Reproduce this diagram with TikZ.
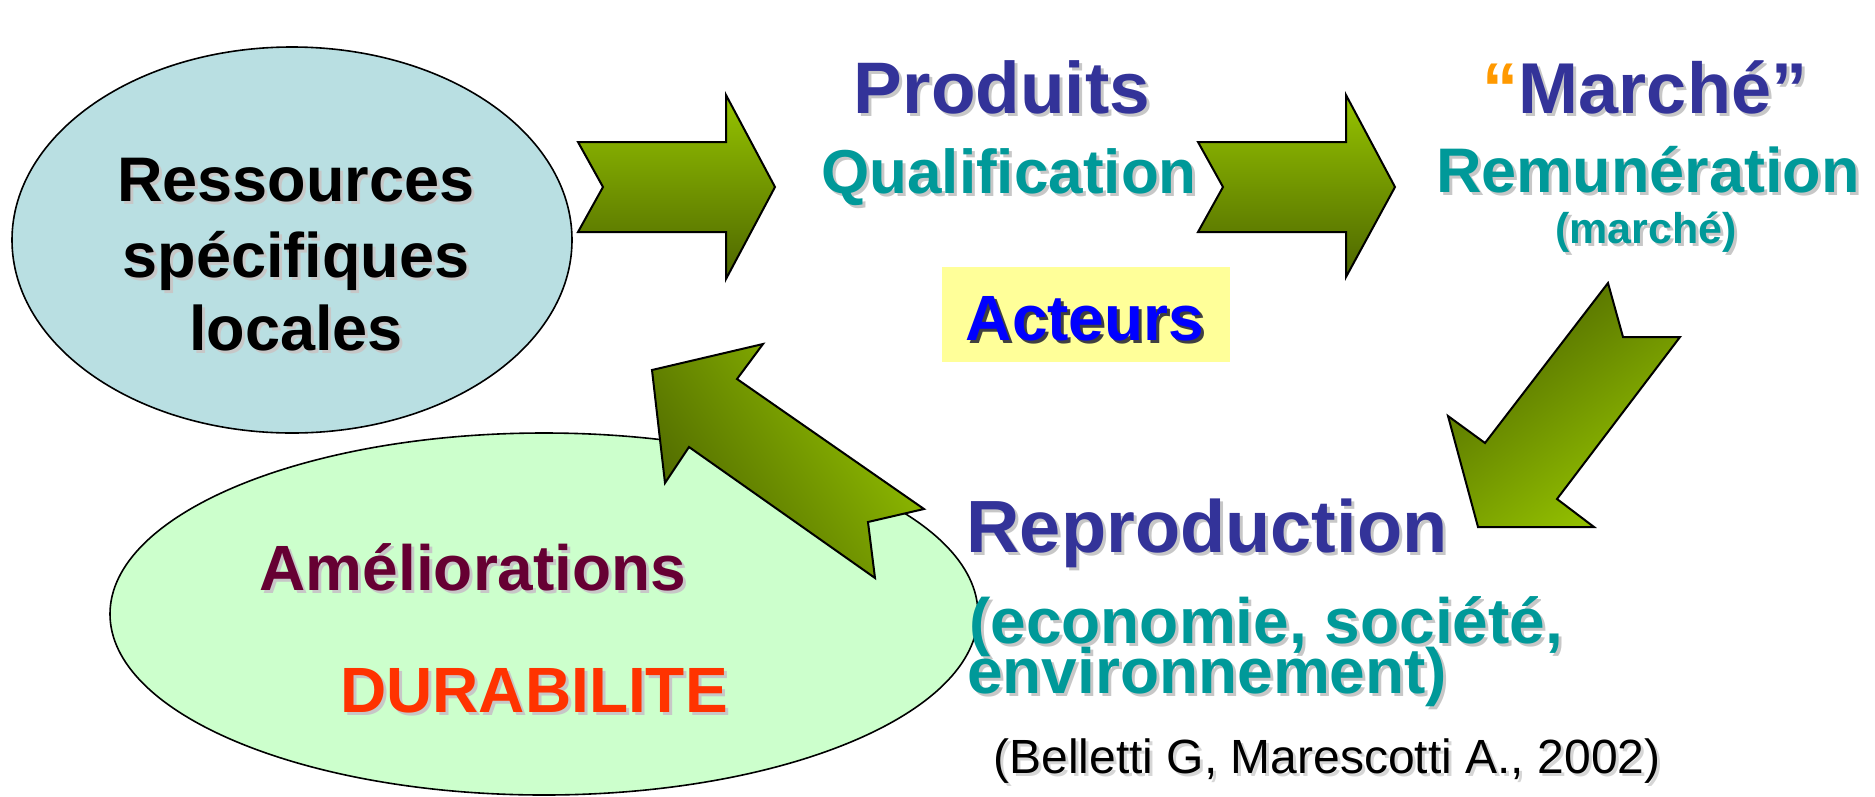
\documentclass[tikz,border=0pt]{standalone}
\usepackage{fontspec}
\setmainfont{Liberation Sans}
\usetikzlibrary{shapes.geometric}
\definecolor{cNavy}{HTML}{333399}
\definecolor{cTeal}{HTML}{009999}
\definecolor{cBlue}{HTML}{0000FF}
\definecolor{cMaroon}{HTML}{660033}
\definecolor{cRed}{HTML}{FF3300}
\definecolor{cQuote}{HTML}{FF9900}
\definecolor{cEllA}{HTML}{B9DFE2}
\definecolor{cEllB}{HTML}{CCFFCC}
\definecolor{cYellow}{HTML}{FFFF99}
\definecolor{cLight}{HTML}{96C400}
\definecolor{cDark}{HTML}{4D6600}
\newcommand\shadowed[2][black!22]{\makebox[0pt][l]{\kern3pt\raisebox{-3pt}{\color{#1}#2}}#2}
\tikzset{
  blob/.style={ellipse, draw=black, line width=1.6pt, inner sep=0pt},
  blockarrow/.style={draw=black, line width=2pt, line join=miter},
  lbl/.style={anchor=base, inner sep=0pt},
}
\newcommand\fs[1]{\bfseries\fontsize{#1}{#1}\selectfont}
\begin{document}
\begin{tikzpicture}[x=1pt,y=-1pt]
\useasboundingbox (0,0) rectangle (1875,796);
% ellipses
\node[blob, fill=cEllA, minimum width=560pt, minimum height=386pt] (ressEll) at (292,240) {};
\node[blob, fill=cEllB, minimum width=868pt, minimum height=362pt] (amelEll) at (544,614) {};
% block arrows
\draw[blockarrow, top color=cLight, bottom color=cDark]
  (578,142) -- (603,187) -- (578,232) -- (726,232) -- (726,279) -- (775,187) -- (726,95) -- (726,142) -- cycle;
\draw[blockarrow, top color=cLight, bottom color=cDark]
  (1198,142) -- (1223,187) -- (1198,232) -- (1346,232) -- (1346,277) -- (1395,187) -- (1346,95) -- (1346,142) -- cycle;
\draw[blockarrow, left color=cDark, right color=cLight, shading angle=37]
  (1608,283) -- (1623,337) -- (1680,337) -- (1557,499) -- (1594,527) -- (1478,527) -- (1448,416) -- (1485,443) -- cycle;
\draw[blockarrow, left color=cDark, right color=cLight, shading angle=125]
  (652,370) -- (763,344) -- (737,379) -- (924,509) -- (868,522) -- (875,578) -- (689,447) -- (665,483) -- cycle;
% Acteurs box
\node[fill=cYellow, minimum width=288pt, minimum height=95pt, inner sep=0pt] (actBox) at (1086,314.5) {};
\node[lbl, font=\fs{64}, text=cBlue] (acteurs) at (1085,340) {\shadowed[black!75]{Acteurs}};
% texts
\node[lbl, font=\fs{63}] (res1) at (296,201) {\shadowed{Ressources}};
\node[lbl, font=\fs{63}] (res2) at (296,277) {\shadowed{spécifiques}};
\node[lbl, font=\fs{63}] (res3) at (296,350) {\shadowed{locales}};
\node[lbl, font=\fs{73}, text=cNavy] (prod) at (1002,113) {\shadowed{Produits}};
\node[lbl, font=\fs{62}, text=cTeal] (qual) at (1009,193) {\shadowed{Qualification}};
\node[lbl, font=\fs{72}, text=cNavy] (march) at (1645,113) {\textcolor{cQuote}{“}\shadowed{Marché”}};
\node[lbl, font=\fs{63}, text=cTeal] (remu) at (1648,192) {\shadowed{Remunération}};
\node[lbl, font=\fs{43}, text=cTeal] (marche2) at (1646,243) {\shadowed{(marché)}};
\node[lbl, font=\fs{74}, text=cNavy] (repro) at (1207,552) {\shadowed{Reproduction}};
\node[lbl, anchor=base west, font=\fs{64}, text=cTeal] (eco) at (969,643) {\shadowed{(economie, société,}};
\node[lbl, anchor=base west, font=\fs{64}, text=cTeal] (env) at (967,693) {\shadowed{environnement)}};
\node[lbl, font=\fontsize{48}{48}\selectfont] (ref) at (1327,773) {\shadowed[black!16]{(Belletti G, Marescotti A., 2002)}};
\node[lbl, font=\fs{64}, text=cMaroon] (amel) at (473,590) {\shadowed{Améliorations}};
\node[lbl, font=\fs{64}, text=cRed] (dura) at (534,712) {\shadowed{DURABILITE}};
\end{tikzpicture}
\end{document}
